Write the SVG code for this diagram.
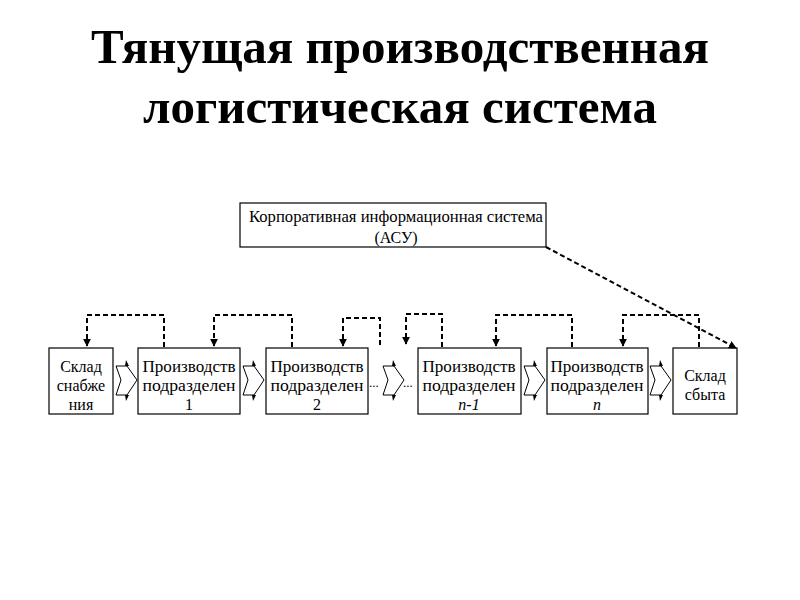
<svg xmlns="http://www.w3.org/2000/svg" width="800" height="600" viewBox="0 0 800 600">
<defs>
<style>
.title{font-family:"Liberation Serif",serif;font-weight:bold;font-size:49px;fill:#000;text-anchor:middle}
.box{fill:#fff;stroke:#000;stroke-width:1.2}
.t{font-family:"Liberation Serif",serif;font-size:16px;fill:#000;text-anchor:middle}
.ts{font-family:"Liberation Serif",serif;font-size:16px;fill:#000;text-anchor:middle}
.dash{fill:none;stroke:#000;stroke-width:2;stroke-dasharray:5,3}
.chev{fill:#fff;stroke:#000;stroke-width:1}
.dots{font-family:"Liberation Serif",serif;font-size:13px;fill:#000}
</style>
<marker id="ah" viewBox="0 0 10 10" refX="9" refY="5" markerWidth="4" markerHeight="4" orient="auto-start-reverse">
<path d="M0,0 L10,5 L0,10 z" fill="#000"/>
</marker>
<g id="chevron">
<path class="chev" d="M0,0 L11,0 L21,14 L11,29 L0,29 L5,14 z"/>
<path d="M10,-6 L13,0 L9,0 z M10,35 L13,29 L9,29 z" fill="#000"/>
</g>
</defs>
<text class="title" x="400" y="63">Тянущая производственная</text>
<text class="title" x="400" y="123">логистическая система</text>

<g id="asu">
<rect class="box" x="240" y="203" width="306" height="44"/>
<text class="ts" x="396" y="222" textLength="294" lengthAdjust="spacingAndGlyphs">Корпоративная информационная система</text>
<text class="ts" x="396" y="243">(АСУ)</text>
</g>
<g id="sklad-snab">
<rect class="box" x="49" y="348" width="64" height="66"/>
<text class="t" x="81" y="372">Склад</text>
<text class="t" x="81" y="391">снабже</text>
<text class="t" x="81" y="410">ния</text>
</g>
<g id="pp1">
<rect class="box" x="138" y="348" width="102" height="66"/>
<text class="t" x="189" y="372" textLength="93" lengthAdjust="spacingAndGlyphs">Производств</text>
<text class="t" x="189" y="391" textLength="93" lengthAdjust="spacingAndGlyphs">подразделен</text>
<text class="t" x="189" y="410">1</text>
</g>
<g id="pp2">
<rect class="box" x="266" y="348" width="102" height="66"/>
<text class="t" x="317" y="372" textLength="93" lengthAdjust="spacingAndGlyphs">Производств</text>
<text class="t" x="317" y="391" textLength="93" lengthAdjust="spacingAndGlyphs">подразделен</text>
<text class="t" x="317" y="410">2</text>
</g>
<g id="ppn1">
<rect class="box" x="418" y="348" width="103" height="66"/>
<text class="t" x="469" y="372" textLength="93" lengthAdjust="spacingAndGlyphs">Производств</text>
<text class="t" x="469" y="391" textLength="93" lengthAdjust="spacingAndGlyphs">подразделен</text>
<text class="t" x="469" y="410" font-style="italic">n-1</text>
</g>
<g id="ppn">
<rect class="box" x="547" y="348" width="101" height="66"/>
<text class="t" x="597" y="372" textLength="93" lengthAdjust="spacingAndGlyphs">Производств</text>
<text class="t" x="597" y="391" textLength="93" lengthAdjust="spacingAndGlyphs">подразделен</text>
<text class="t" x="597" y="410" font-style="italic">n</text>
</g>
<g id="sklad-sbyt">
<rect class="box" x="673" y="348" width="64" height="66"/>
<text class="t" x="705" y="381">Склад</text>
<text class="t" x="705" y="400">сбыта</text>
</g>

<g id="connectors">
<use href="#chevron" x="116" y="366"/>
<use href="#chevron" x="243" y="366"/>
<use href="#chevron" x="383" y="366"/>
<use href="#chevron" x="524" y="366"/>
<use href="#chevron" x="650" y="366"/>
<text class="dots" x="369" y="387">...</text>
<text class="dots" x="403" y="387">...</text>
<path class="dash" d="M164,347 V315 H87 V346" marker-end="url(#ah)"/>
<path class="dash" d="M292,347 V315 H214 V346" marker-end="url(#ah)"/>
<path class="dash" d="M380,345 V318 H343 V346" marker-end="url(#ah)"/>
<path class="dash" d="M442,347 V314 H406 V344" marker-end="url(#ah)"/>
<path class="dash" d="M572,347 V315 H496 V346" marker-end="url(#ah)"/>
<path class="dash" d="M699,347 V315 H623 V346" marker-end="url(#ah)"/>
<path class="dash" d="M546,247 L736,348" stroke-width="1.6" marker-end="url(#ah)"/>
</g>
</svg>
